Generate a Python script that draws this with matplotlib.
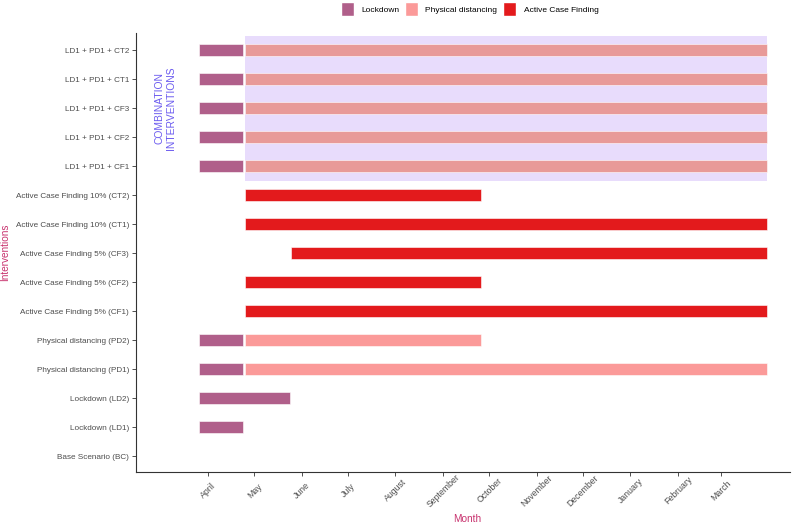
import datetime as dt
import matplotlib
matplotlib.use("Agg")
import matplotlib.pyplot as plt
import matplotlib.dates as mdates
import matplotlib.transforms as mtransforms
from matplotlib.patches import Patch

plt.rcParams['font.family'] = ['Liberation Sans', 'DejaVu Sans']

# ------------------------------------------------------------
# Data
# ------------------------------------------------------------

# categories, bottom to top
interventions = [
    "Base Scenario (BC)",
    "Lockdown (LD1)",
    "Lockdown (LD2)",
    "Physical distancing (PD1)",
    "Physical distancing (PD2)",
    "Active Case Finding 5% (CF1)",
    "Active Case Finding 5% (CF2)",
    "Active Case Finding 5% (CF3)",
    "Active Case Finding 10% (CT1)",
    "Active Case Finding 10% (CT2)",
    "LD1 + PD1 + CF1",
    "LD1 + PD1 + CF2",
    "LD1 + PD1 + CF3",
    "LD1 + PD1 + CT1",
    "LD1 + PD1 + CT2",
]

combos = interventions[10:]

# segments: row, type, start, end
seg_rows = [
    "Lockdown (LD1)",
    "Lockdown (LD2)",
    "Physical distancing (PD1)", "Physical distancing (PD1)",
    "Physical distancing (PD2)", "Physical distancing (PD2)",
    "Active Case Finding 5% (CF1)",
    "Active Case Finding 5% (CF2)",
    "Active Case Finding 5% (CF3)",
    "Active Case Finding 10% (CT1)",
    "Active Case Finding 10% (CT2)",
    "LD1 + PD1 + CF1", "LD1 + PD1 + CF1",
    "LD1 + PD1 + CF2", "LD1 + PD1 + CF2",
    "LD1 + PD1 + CF3", "LD1 + PD1 + CF3",
    "LD1 + PD1 + CT1", "LD1 + PD1 + CT1",
    "LD1 + PD1 + CT2", "LD1 + PD1 + CT2",
]
seg_types = [
    "Lockdown",
    "Lockdown",
    "Lockdown", "Physical distancing",
    "Lockdown", "Physical distancing",
    "Active Case Finding",
    "Active Case Finding",
    "Active Case Finding",
    "Active Case Finding",
    "Active Case Finding",
    "Lockdown", "Physical distancing",
    "Lockdown", "Physical distancing",
    "Lockdown", "Physical distancing",
    "Lockdown", "Physical distancing",
    "Lockdown", "Physical distancing",
]
seg_starts = [
    "2020-03-26",
    "2020-03-26",
    "2020-03-26", "2020-04-25",
    "2020-03-26", "2020-04-25",
    "2020-04-25",
    "2020-04-25",
    "2020-05-25",
    "2020-04-25",
    "2020-04-25",
    "2020-03-26", "2020-04-25",
    "2020-03-26", "2020-04-25",
    "2020-03-26", "2020-04-25",
    "2020-03-26", "2020-04-25",
    "2020-03-26", "2020-04-25",
]
seg_ends = [
    "2020-04-24",
    "2020-05-24",
    "2020-04-24", "2021-03-31",
    "2020-04-24", "2020-09-26",
    "2021-03-31",
    "2020-09-26",
    "2021-03-31",
    "2021-03-31",
    "2020-09-26",
    "2020-04-24", "2021-03-31",
    "2020-04-24", "2021-03-31",
    "2020-04-24", "2021-03-31",
    "2020-04-24", "2021-03-31",
    "2020-04-24", "2021-03-31",
]

month_ticks = ["2020-04-01", "2020-05-01", "2020-06-01", "2020-07-01",
               "2020-08-01", "2020-09-01", "2020-10-01", "2020-11-01",
               "2020-12-01", "2021-01-01", "2021-02-01", "2021-03-01"]
month_labels = ["April", "May", "June", "July", "August", "September",
                "October", "November", "December", "January", "February",
                "March"]

# combination interventions highlight
combo_start = "2020-04-25"
combo_end = "2021-03-31"

# ------------------------------------------------------------
# Style
# ------------------------------------------------------------

colors = {
    "Lockdown": "#B05F8A",
    "Physical distancing": "#FB9A99",
    "Active Case Finding": "#E31A1C",
}
combo_pd_color = "#E89A98"
txt_col = "#4D4D4D"
title_col = "#C8326E"


def to_num(s):
    return mdates.date2num(dt.datetime.strptime(s, "%Y-%m-%d"))


ypos = {name: i + 1 for i, name in enumerate(interventions)}

fig = plt.figure(figsize=(8, 5.24), dpi=100)
ax = fig.add_axes([0.17, 0.0992, 0.8175, 0.838])

# highlight rectangle
ax.fill_between(
    [to_num(combo_start), to_num(combo_end)],
    ypos[combos[0]] - 0.5,
    ypos[combos[-1]] + 0.5,
    color="#E8DCFC",
    linewidth=0,
    zorder=1,
)

# bars
for row, typ, s, e in zip(seg_rows, seg_types, seg_starts, seg_ends):
    col = colors[typ]
    if row in combos and typ == "Physical distancing":
        col = combo_pd_color
    x0 = to_num(s)
    ax.barh(
        ypos[row],
        to_num(e) - x0,
        left=x0,
        height=0.42,
        color=col,
        edgecolor="white",
        linewidth=0.4,
        zorder=2,
    )

ax.text(
    to_num("2020-03-04"),
    (ypos[combos[0]] + ypos[combos[-1]]) / 2,
    "COMBINATION\nINTERVENTIONS",
    rotation=90,
    ha="center",
    va="center",
    color="#6B5BEF",
    fontsize=7.4,
    linespacing=1.1,
)

# axes
ax.tick_params(axis="both", length=3, width=0.6, color="#333333", pad=2)
ax.tick_params(axis="x", pad=8)

ax.set_yticks([ypos[n] for n in interventions])
ax.set_yticklabels(interventions, fontsize=5.85, color=txt_col)
ax.set_ylim(0.45, 15.6)

ax.set_xticks([to_num(m) for m in month_ticks])
ax.set_xticklabels(month_labels, rotation=45, ha="center", va="top",
                   rotation_mode="anchor", fontsize=6.3, color=txt_col)
ax.set_xlim(to_num("2020-02-14"), to_num("2021-04-15"))

# nudge the rotated month labels a bit to the left
shift = mtransforms.ScaledTranslation(-2 / 72, 0, fig.dpi_scale_trans)
for lab in ax.get_xticklabels():
    lab.set_transform(lab.get_transform() + shift)

for side in ["top", "right"]:
    ax.spines[side].set_visible(False)
for side in ["left", "bottom"]:
    ax.spines[side].set_linewidth(0.8)
    ax.spines[side].set_color("#333333")

ax.set_xlabel("Month", fontsize=7.2, color=title_col)
ax.set_ylabel("Interventions", fontsize=7.2, color=title_col)
ax.xaxis.set_label_coords(0.506, -0.095)
ax.yaxis.set_label_coords(-0.193, 0.5)

# legend
handles = [Patch(facecolor=colors[k], edgecolor="white", label=k)
           for k in ["Lockdown", "Physical distancing", "Active Case Finding"]]
fig.legend(
    handles=handles,
    loc="upper center",
    bbox_to_anchor=(0.587, 1.01),
    ncol=3,
    frameon=False,
    fontsize=6.0,
    handlelength=1.55,
    handleheight=2.2,
    handletextpad=0.9,
    columnspacing=0.7,
)

fig.savefig("out.png", dpi=100)
